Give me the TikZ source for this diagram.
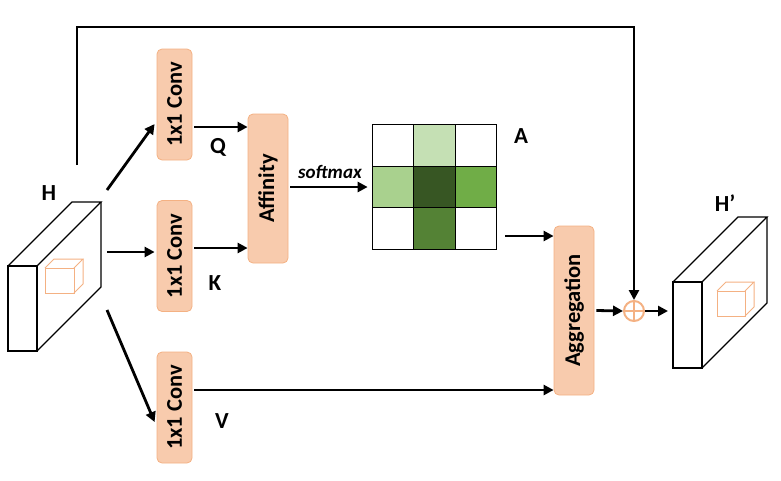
\documentclass[tikz,border=0pt]{standalone}
\usepackage{fontspec}
\setmainfont{Carlito}
\usetikzlibrary{arrows.meta,calc}
\definecolor{boxfill}{HTML}{F8CBAD}
\definecolor{boxline}{HTML}{F4B183}
\definecolor{gA}{HTML}{C5E0B4}
\definecolor{gB}{HTML}{A9D18E}
\definecolor{gC}{HTML}{375623}
\definecolor{gD}{HTML}{70AD47}
\definecolor{gE}{HTML}{548235}
\tikzset{
  opbox/.style={draw=boxline, fill=boxfill, line width=0.8pt, rounded corners=5pt, inner sep=0pt, font=\fontsize{22.5}{24}\selectfont\bfseries},
  arr/.style={line width=2.8pt, -{Triangle[length=10pt,width=10pt]}},
  cell/.style={draw=black, line width=1pt, minimum width=41.7pt, minimum height=41.5pt, inner sep=0pt},
  lbl/.style={font=\fontsize{23}{24}\selectfont\bfseries, inner sep=0pt},
  cub/.style={draw=black, line width=1.3pt, line join=miter},
  ocub/.style={draw=boxline, line width=1pt},
}
\begin{document}
\begin{tikzpicture}[x=1pt,y=-1pt]
\useasboundingbox (0,0) rectangle (781,480);
% input cuboid H
\draw[cub] (8,266) rectangle (37,351);
\draw[cub] (8,266) -- (72,202) -- (101,202) -- (37,266);
\draw[cub] (101,202) -- (101,287) -- (37,351);
\draw[ocub] (45,268) rectangle (74,293);
\draw[ocub] (45,268) -- (54,259) -- (83,259) -- (74,268);
\draw[ocub] (83,259) -- (83,284) -- (74,293);
\node[lbl] (H) at (49,193) {H};
% output cuboid H'
\draw[cub] (673,282) rectangle (702,368);
\draw[cub] (673,282) -- (738,217) -- (767,217) -- (702,282);
\draw[cub] (767,217) -- (767,303) -- (702,368);
\draw[ocub] (717,291) rectangle (745,316);
\draw[ocub] (717,291) -- (726,282) -- (754,282) -- (745,291);
\draw[ocub] (754,282) -- (754,307) -- (745,316);
\node[lbl] (Hp) at (725,203) {H’};
\coordinate (hin) at (673,311);
% conv boxes
\node[opbox, minimum width=35pt, minimum height=111pt] (conv1) at (174.5,104.5) {\rotatebox{90}{1x1 Conv}};
\node[opbox, minimum width=35pt, minimum height=111pt] (conv2) at (174.5,256) {\rotatebox{90}{1x1 Conv}};
\node[opbox, minimum width=35pt, minimum height=111pt] (conv3) at (174.5,407.5) {\rotatebox{90}{1x1 Conv}};
\node[opbox, minimum width=40pt, minimum height=149pt] (aff) at (268,188.5) {\rotatebox{90}{Affinity}};
\node[opbox, minimum width=40pt, minimum height=169pt] (agg) at (574,310.5) {\rotatebox{90}{Aggregation}};
% labels
\node[lbl] (Q) at (218,147) {Q};
\node[lbl] (K) at (215,283) {K};
\node[lbl] (V) at (222,421) {V};
\node[lbl] (A) at (521,136) {A};
\node[font=\fontsize{19}{20}\selectfont\bfseries\itshape, inner sep=0pt] (sm) at (330,172) {softmax};
% grid
\node[cell] (c11) at (393,145.5) {};
\node[cell, fill=gA] (c12) at (434.5,145.5) {};
\node[cell] (c13) at (476,145.5) {};
\node[cell, fill=gB] (c21) at (393,187) {};
\node[cell, fill=gC] (c22) at (434.5,187) {};
\node[cell, fill=gD] (c23) at (476,187) {};
\node[cell] (c31) at (393,228.5) {};
\node[cell, fill=gE] (c32) at (434.5,228.5) {};
\node[cell] (c33) at (476,228.5) {};
% oplus
\node[circle, draw=boxline, line width=2pt, minimum size=20pt, inner sep=0pt,
  path picture={\draw[boxline, line width=2pt] (path picture bounding box.north) -- (path picture bounding box.south) (path picture bounding box.west) -- (path picture bounding box.east);}] (plus) at (634,311) {};
% H branches
\coordinate (h1) at (107,190);
\coordinate (h2) at (107,252);
\coordinate (h3) at (107,310);
\coordinate (htop) at (77,165);
\draw[arr] (h1) -- ([yshift=-19.5pt,xshift=-2pt]conv1.west);
\draw[arr] (h2) -- ([yshift=4pt,xshift=-2pt]conv2.west);
\draw[arr] (h3) -- ([yshift=-14.5pt,xshift=-2pt]conv3.west);
% Q, K
\draw[arr] ([yshift=-22.5pt,xshift=2pt]conv1.east) -- (aff.west |- 0,127);
\draw[arr] ([yshift=8pt,xshift=2pt]conv2.east) -- (aff.west |- 0,248);
% softmax
\draw[arr] ([xshift=2pt,yshift=1.5pt]aff.east) -- ([xshift=-4pt]c21.west);
% grid to aggregation
\draw[arr] ([xshift=8pt,yshift=-7.5pt]c33.east) -- (agg.west |- 0,236);
% V
\draw[arr] ([yshift=17.5pt,xshift=2pt]conv3.east) -- (agg.west |- 0,390);
% aggregation to plus to H'
\draw[arr] ([xshift=2pt]agg.east) -- (plus.west);
\draw[arr] (plus.east) -- ([xshift=-5pt]hin);
% residual
\draw[arr, line join=miter] (htop) -- (77,27) -- (634,27) -- (plus.north);
\end{tikzpicture}
\end{document}
